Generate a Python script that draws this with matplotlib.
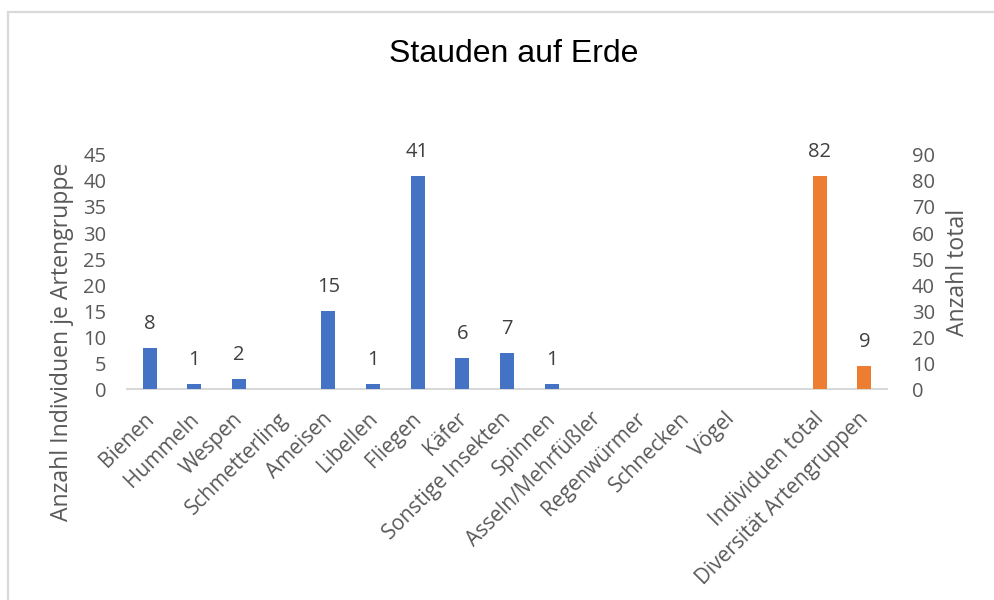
import matplotlib
matplotlib.use("Agg")
import matplotlib.pyplot as plt
import matplotlib.patches as mpatches
from matplotlib.transforms import ScaledTranslation
import numpy as np

categories = ["Bienen", "Hummeln", "Wespen", "Schmetterling", "Ameisen", "Libellen",
              "Fliegen", "Käfer", "Sonstige Insekten", "Spinnen", "Asseln/Mehrfüßler",
              "Regenwürmer", "Schnecken", "Vögel", "", "Individuen total",
              "Diversität Artengruppen"]
nan = np.nan
individuen = [8, 1, 2, nan, 15, 1, 41, 6, 7, 1, nan, nan, nan, nan, nan, nan, nan]
totals = [nan] * 15 + [82, 9]
left_ticks = [0, 5, 10, 15, 20, 25, 30, 35, 40, 45]
right_ticks = [0, 10, 20, 30, 40, 50, 60, 70, 80, 90]

W, H = 994, 600
fig = plt.figure(figsize=(W / 100, H / 100), dpi=100)
fig.patch.set_facecolor("white")

# chart border (cropped on right and bottom)
fig.patches.append(mpatches.Rectangle((8 / W, -0.5), 1.5, (1 - 12 / H) + 0.5,
                                      transform=fig.transFigure, fill=False,
                                      edgecolor="#d9d9d9", linewidth=1.6))

x0, x1 = 127.3, 886.7
y0, y1 = 389.3, 154.9
ax = fig.add_axes([x0 / W, 1 - y0 / H, (x1 - x0) / W, (y0 - y1) / H])
ax2 = ax.twinx()

x = np.arange(len(categories))
bw = 0.31
blue, orange = "#4472C4", "#ED7D31"
ax.bar(x, individuen, width=bw, color=blue, zorder=3)
ax2.bar(x, totals, width=bw, color=orange, zorder=3)

ax.set_xlim(-0.5, len(categories) - 0.5)
ax.set_ylim(0, 45)
ax2.set_ylim(0, 90)

tick_font = dict(family="Open Sans", size=14.5, color="#595959")
ax.set_yticks(left_ticks)
ax.set_yticklabels([str(t) for t in left_ticks], **tick_font)
ax2.set_yticks(right_ticks)
ax2.set_yticklabels([str(t) for t in right_ticks], **tick_font)
ax.tick_params(axis="y", length=0, pad=15)
ax2.tick_params(axis="y", length=0, pad=18)

ax.set_xticks(x)
ax.set_xticklabels(categories, rotation=45, ha="right", va="baseline",
                   rotation_mode="anchor", family="Open Sans", size=15,
                   color="#595959")
ax.tick_params(axis="x", length=0, pad=22)
for lbl in ax.get_xticklabels():
    lbl.set_transform(lbl.get_transform() + ScaledTranslation(5 / 100, 0, fig.dpi_scale_trans))

for a in (ax, ax2):
    for s in ("top", "left", "right"):
        a.spines[s].set_visible(False)
    a.spines["bottom"].set_color("#d9d9d9")
    a.spines["bottom"].set_linewidth(1.5)
    a.patch.set_visible(False)
ax2.spines["bottom"].set_visible(False)

lab_font = dict(family="Open Sans", size=14.5, color="#404040")
for xi, v in zip(x, individuen):
    if not np.isnan(v):
        ax.annotate(f"{v:g}", (xi, v), xytext=(0, 17.3), textcoords="offset points",
                    ha="center", va="center", **lab_font)
for xi, v in zip(x, totals):
    if not np.isnan(v):
        ax2.annotate(f"{v:g}", (xi, v), xytext=(0, 17.3), textcoords="offset points",
                     ha="center", va="center", **lab_font)

fig.text(513.5 / W, 1 - 54 / H, "Stauden auf Erde", ha="center", va="center",
         family="Liberation Sans", size=23, color="black")
fig.text(62 / W, 1 - 342 / H, "Anzahl Individuen je Artengruppe", rotation=90,
         ha="center", va="center", family="Open Sans", size=16.6, color="#595959")
fig.text(958 / W, 1 - 272 / H, "Anzahl total", rotation=90,
         ha="center", va="center", family="Open Sans", size=16.6, color="#595959")

fig.savefig("out.png", dpi=100)
